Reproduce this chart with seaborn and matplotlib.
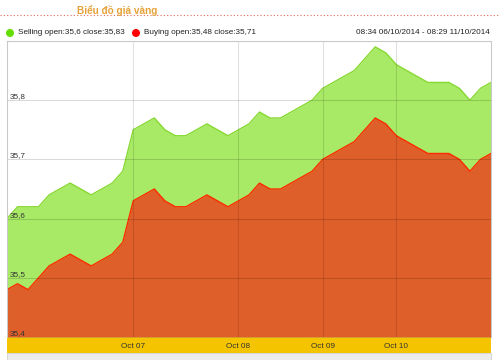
import numpy as np
import pandas as pd
import matplotlib
matplotlib.use("Agg")
import matplotlib.pyplot as plt
import seaborn as sns
from matplotlib.lines import Line2D
from matplotlib.patches import Rectangle, Ellipse

# ---- data ----
selling = [35.60, 35.62, 35.62, 35.62, 35.64, 35.65, 35.66, 35.65, 35.64, 35.65, 35.66, 35.68,
           35.75, 35.76, 35.77, 35.75, 35.74, 35.74, 35.75, 35.76, 35.75, 35.74, 35.75,
           35.76, 35.78, 35.77, 35.77, 35.78, 35.79, 35.80,
           35.82, 35.83, 35.84, 35.85, 35.87, 35.89, 35.88, 35.86, 35.85, 35.84, 35.83,
           35.83, 35.83, 35.82, 35.80, 35.82, 35.83]
buying = [35.48, 35.49, 35.48, 35.50, 35.52, 35.53, 35.54, 35.53, 35.52, 35.53, 35.54, 35.56,
          35.63, 35.64, 35.65, 35.63, 35.62, 35.62, 35.63, 35.64, 35.63, 35.62, 35.63,
          35.64, 35.66, 35.65, 35.65, 35.66, 35.67, 35.68,
          35.70, 35.71, 35.72, 35.73, 35.75, 35.77, 35.76, 35.74, 35.73, 35.72, 35.71,
          35.71, 35.71, 35.70, 35.68, 35.70, 35.71]
x_tick_pos = [12, 22, 30, 37]
x_tick_labels = ["Oct 07", "Oct 08", "Oct 09", "Oct 10"]
y_ticks = [35.4, 35.5, 35.6, 35.7, 35.8]
y_tick_labels = ["35,4", "35,5", "35,6", "35,7", "35,8"]
title = "Biểu đồ giá vàng"
date_range = "08:34 06/10/2014 - 08:29 11/10/2014"

def fmt(v):
    s = f"{v:.2f}".rstrip("0").rstrip(".")
    return s.replace(".", ",")

df = pd.DataFrame({"idx": np.arange(len(selling)), "selling": selling, "buying": buying})

sns.set_style("white")
plt.rcParams["font.family"] = ["Liberation Sans", "DejaVu Sans"]

W, H = 500, 360
fig = plt.figure(figsize=(W / 100, H / 100), dpi=100)

def fx(px):
    return px / W

def fy(py):
    return 1 - py / H

# bottom gray strip
fig.patches.append(Rectangle((fx(7), fy(360)), fx(484), 7 / H, transform=fig.transFigure,
                             facecolor="#ececec", edgecolor="#d0d0d0", lw=0.6, zorder=0))
# yellow band
band = fig.add_axes([fx(7), fy(353), fx(484), 16 / H], zorder=0)
band.set_facecolor("#f5c400")
band.set_xticks([]); band.set_yticks([])
for s in band.spines.values():
    s.set_visible(False)

ax = fig.add_axes([fx(7), fy(337), fx(484), 296 / H], zorder=1)
ax.set_facecolor("white")

green_fill = "#a8ea66"
green_line = "#86d930"
red_fill = "#de5f2a"
red_line = "#ff2a00"

ax.fill_between(df["idx"], df["selling"], 35.4, color=green_fill, lw=0, zorder=1)
ax.fill_between(df["idx"], df["buying"], 35.4, color=red_fill, lw=0, zorder=2)
sns.lineplot(data=df, x="idx", y="selling", ax=ax, color=green_line, lw=1.0, zorder=3)
sns.lineplot(data=df, x="idx", y="buying", ax=ax, color=red_line, lw=1.0, zorder=4)

ax.set_xlim(0, len(selling) - 1)
ax.set_ylim(35.4, 35.9)
ax.set_xlabel(""); ax.set_ylabel("")

for yv in y_ticks[1:]:
    ax.axhline(yv, color="black", alpha=0.15, lw=0.75, zorder=5)
for xv in x_tick_pos:
    ax.axvline(xv, color="black", alpha=0.12, lw=0.75, zorder=5)

ax.set_xticks(x_tick_pos)
ax.set_xticklabels(x_tick_labels, fontsize=5.9, color="#333333")
ax.tick_params(axis="x", length=0, pad=4.2)
ax.set_yticks(y_ticks)
ax.set_yticklabels(y_tick_labels, fontsize=5.9, color="#333333")
ax.tick_params(axis="y", length=0, pad=-1.8)
for lbl in ax.get_yticklabels():
    lbl.set_horizontalalignment("left")
    lbl.set_verticalalignment("bottom")
ax.yaxis.set_zorder(10)
ax.xaxis.set_zorder(10)

for s in ax.spines.values():
    s.set_color("#c8c8c8")
    s.set_linewidth(0.75)
    s.set_zorder(11)
ax.spines["bottom"].set_visible(False)

# title and dotted rule
fig.text(fx(117), fy(10), title, ha="center", va="center", fontsize=7.2,
         fontweight="bold", color="#e5a23a")
fig.add_artist(Line2D([0, 1], [fy(15), fy(15)], transform=fig.transFigure,
                      color="#e06a5a", lw=0.8, linestyle=(0, (1, 2))))

# legend row
ly = fy(33)
fig.patches.append(Ellipse((fx(10), ly), 8 / W, 8 / H, transform=fig.transFigure,
                           facecolor="#66dd00", edgecolor="none"))
fig.text(fx(18), ly, f"Selling open:{fmt(selling[0])} close:{fmt(selling[-1])}",
         ha="left", va="center", fontsize=5.9, color="#222222")
fig.patches.append(Ellipse((fx(136), ly), 8 / W, 8 / H, transform=fig.transFigure,
                           facecolor="#ff0000", edgecolor="none"))
fig.text(fx(144), ly, f"Buying open:{fmt(buying[0])} close:{fmt(buying[-1])}",
         ha="left", va="center", fontsize=5.9, color="#222222")
fig.text(fx(490), ly, date_range, ha="right", va="center", fontsize=5.9, color="#222222")

fig.savefig("out.png", dpi=100)
